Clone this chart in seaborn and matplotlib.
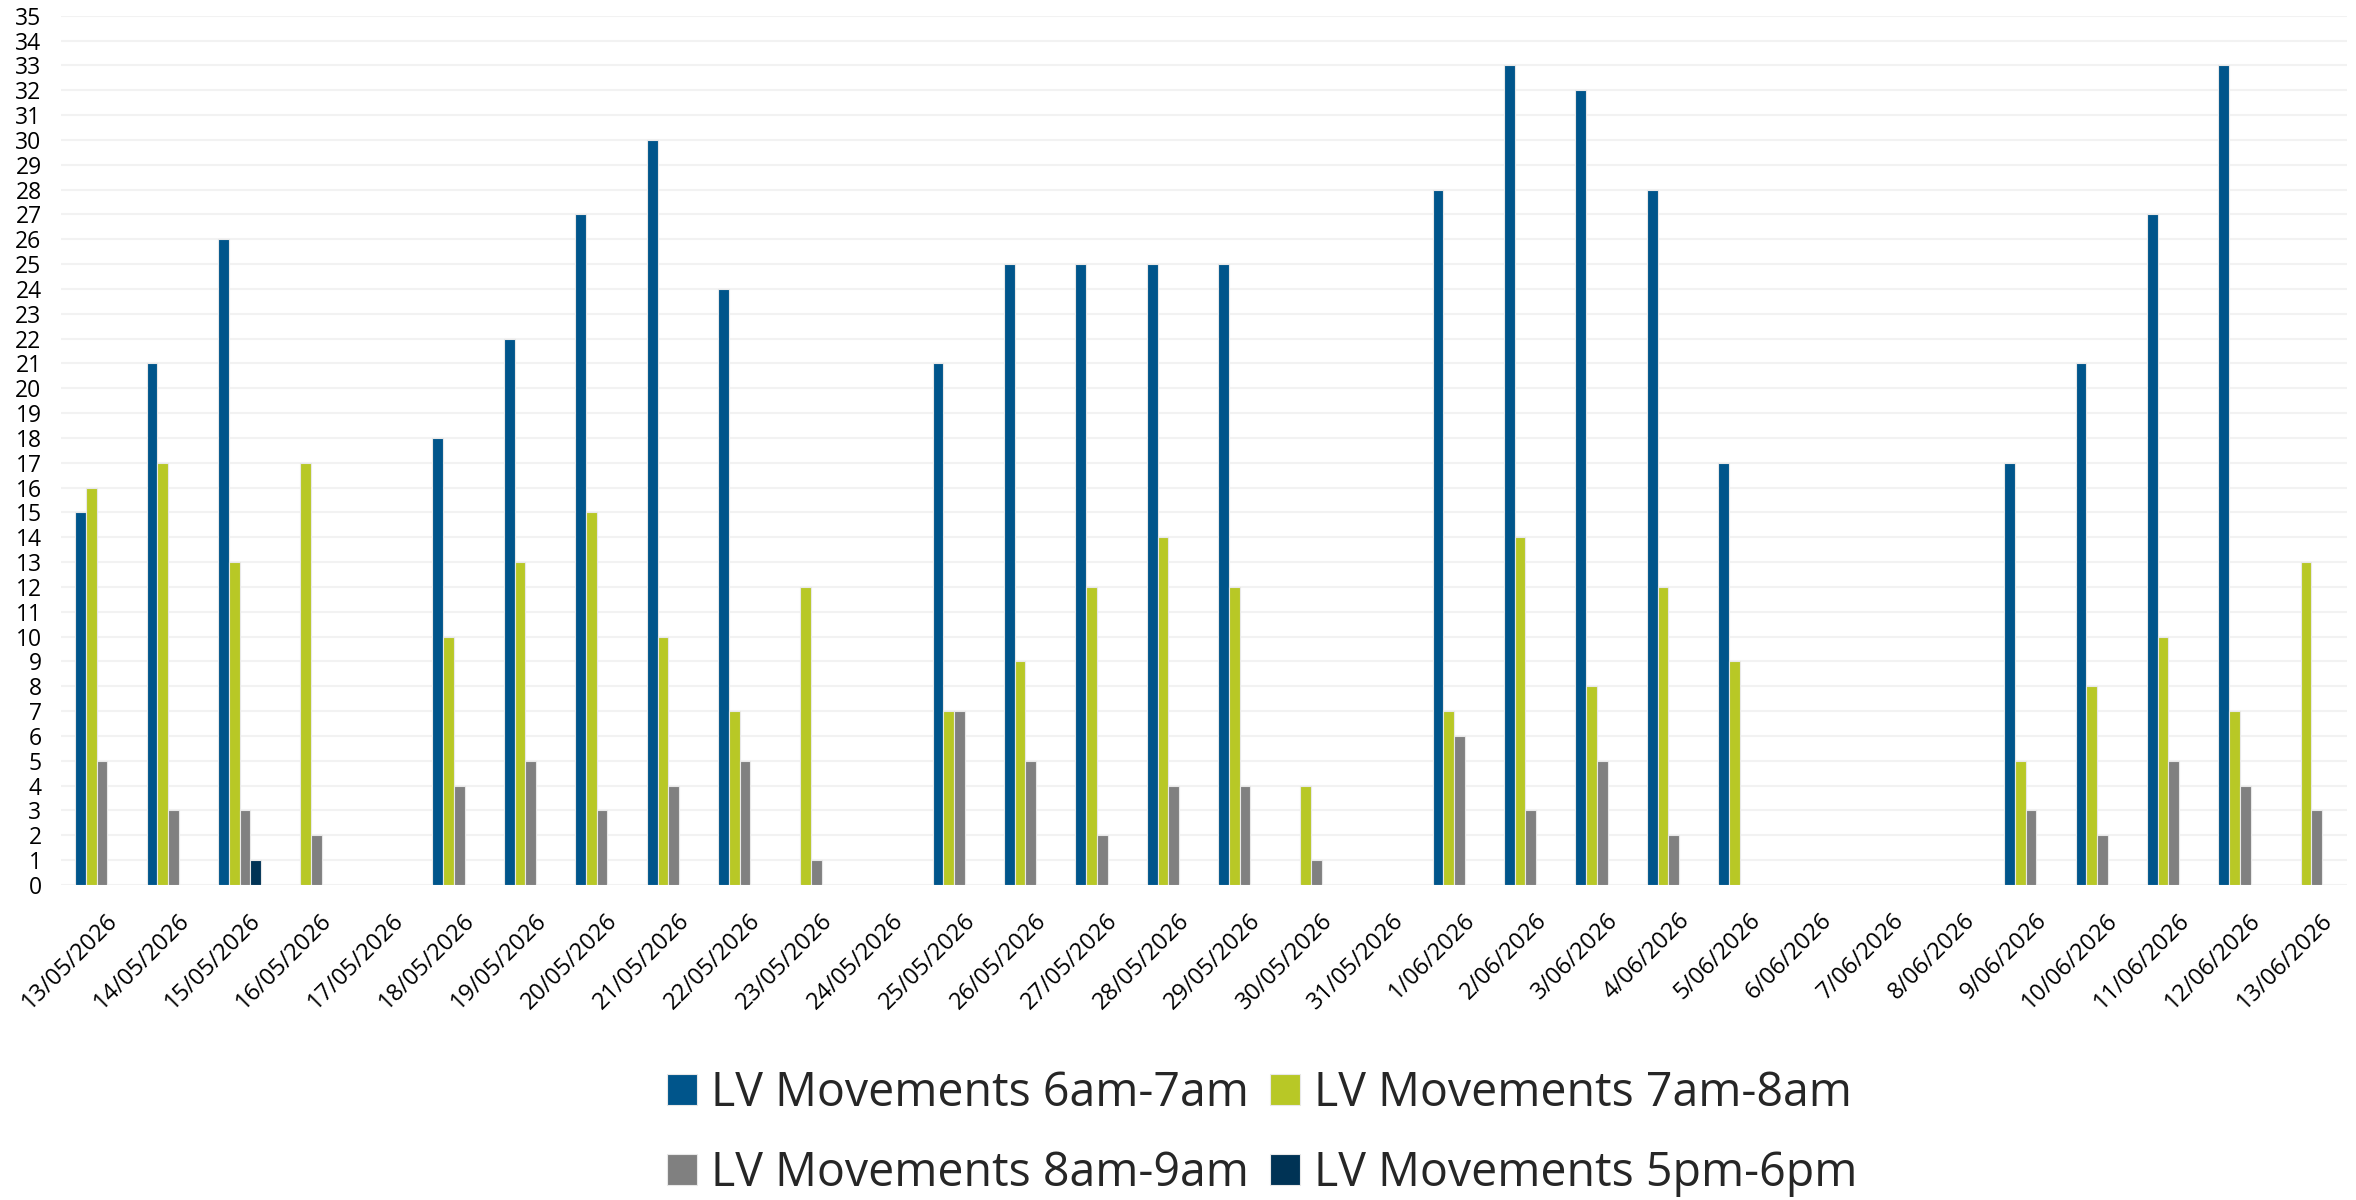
import numpy as np
import pandas as pd
import seaborn as sns
import matplotlib.pyplot as plt
import matplotlib.transforms as mtransforms

dates = ["13/05/2026", "14/05/2026", "15/05/2026", "16/05/2026", "17/05/2026", "18/05/2026",
         "19/05/2026", "20/05/2026", "21/05/2026", "22/05/2026", "23/05/2026", "24/05/2026",
         "25/05/2026", "26/05/2026", "27/05/2026", "28/05/2026", "29/05/2026", "30/05/2026",
         "31/05/2026", "1/06/2026", "2/06/2026", "3/06/2026", "4/06/2026", "5/06/2026",
         "6/06/2026", "7/06/2026", "8/06/2026", "9/06/2026", "10/06/2026", "11/06/2026",
         "12/06/2026", "13/06/2026"]
N = np.nan
lv_6_7 = [15, 21, 26, N, N, 18, 22, 27, 30, 24, N, N, 21, 25, 25, 25, 25, N, N,
          28, 33, 32, 28, 17, N, N, N, 17, 21, 27, 33, N]
lv_7_8 = [16, 17, 13, 17, N, 10, 13, 15, 10, 7, 12, N, 7, 9, 12, 14, 12, 4, N,
          7, 14, 8, 12, 9, N, N, N, 5, 8, 10, 7, 13]
lv_8_9 = [5, 3, 3, 2, N, 4, 5, 3, 4, 5, 1, N, 7, 5, 2, 4, 4, 1, N,
          6, 3, 5, 2, N, N, N, N, 3, 2, 5, 4, 3]
lv_5_6 = [N, N, 1, N, N, N, N, N, N, N, N, N, N, N, N, N, N, N, N,
          N, N, N, N, N, N, N, N, N, N, N, N, N]
series_names = ["LV Movements 6am-7am", "LV Movements 7am-8am",
                "LV Movements 8am-9am", "LV Movements 5pm-6pm"]
colors = ["#00558B", "#B8C826", "#808080", "#003355"]

rows = []
for name, vals in zip(series_names, [lv_6_7, lv_7_8, lv_8_9, lv_5_6]):
    for d, v in zip(dates, vals):
        rows.append({"date": d, "series": name, "value": v})
df = pd.DataFrame(rows)

sns.set_theme(style="white")
plt.rcParams['font.family'] = ['Open Sans', 'DejaVu Sans']

fig = plt.figure(figsize=(23.56, 12), dpi=100)
ax = fig.add_axes([61 / 2356, 1 - 885 / 1200, (2347 - 61) / 2356, (885 - 15.7) / 1200])

sns.barplot(data=df, x="date", y="value", hue="series", order=dates,
            hue_order=series_names, palette=colors, saturation=1, width=0.6, ax=ax,
            errorbar=None, linewidth=0.8, edgecolor="#E8E8E8", legend=True)

ax.set_ylim(0, 35)
ax.set_xlim(-0.5, len(dates) - 0.5)
ax.set_yticks(range(0, 36))
ax.set_yticklabels([str(i) for i in range(0, 36)], fontsize=16.5, color="#000000")
ax.set_xticks(range(len(dates)))
ax.set_xticklabels(dates, rotation=45, ha="right", rotation_mode="anchor",
                   fontsize=17, color="#000000")
ax.tick_params(axis="y", length=0, pad=14)
ax.tick_params(axis="x", length=0, pad=17)
offset = mtransforms.ScaledTranslation(9 / 100, 0, fig.dpi_scale_trans)
for lbl in ax.get_xticklabels():
    lbl.set_transform(lbl.get_transform() + offset)
ax.grid(axis="y", color="#F2F2F2", linewidth=1.5)
ax.set_axisbelow(True)
for s in ax.spines.values():
    s.set_visible(False)
ax.set_xlabel("")
ax.set_ylabel("")

handles, labels = ax.get_legend_handles_labels()
order = [0, 2, 1, 3]
ax.legend([handles[i] for i in order], [labels[i] for i in order], loc="center",
          bbox_to_anchor=(0.5357, 1 - 1133.5 / 1200),
          bbox_transform=fig.transFigure, ncol=2, frameon=False, fontsize=33.5,
          handlelength=0.645, handleheight=0.645, handletextpad=0.3,
          columnspacing=0.47, labelspacing=0.7, borderpad=0)

fig.savefig("out.png", dpi=100, facecolor="white")
